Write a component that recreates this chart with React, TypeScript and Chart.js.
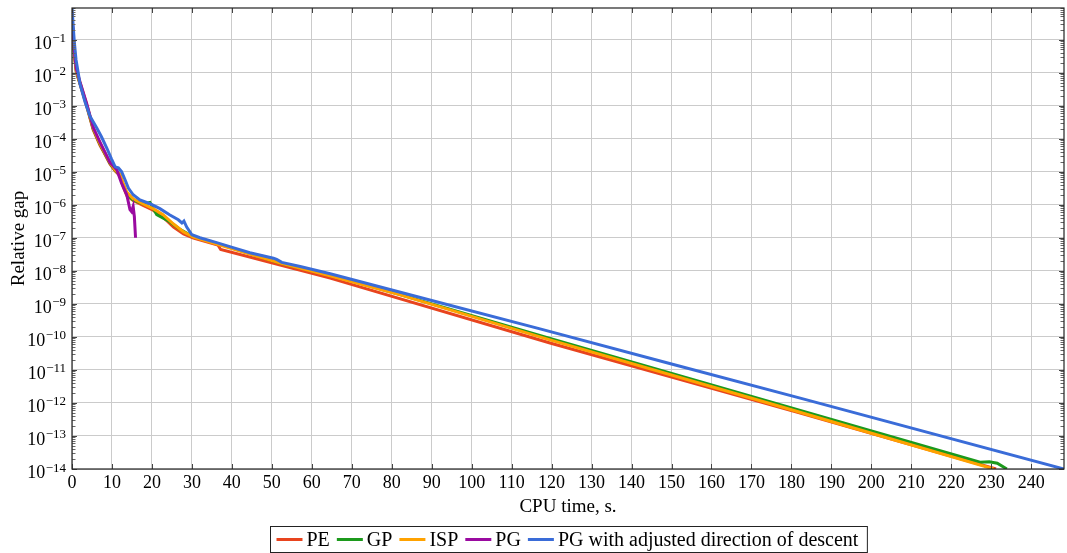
import React, { useEffect, useRef } from "react";
import { Chart, registerables } from "chart.js";
Chart.register(...registerables);

// ---------- data ----------
const peTime = [0, 0.3, 0.75, 1.1, 2.0, 3.7, 5.3, 7.0, 7.8, 9.5, 10.8, 12.0, 12.8, 13.7, 15.3, 17.8, 20.3, 22.8, 25.4, 27.9, 30.4, 36.5, 37.2, 52.1, 64.6, 119.6, 182.2, 231.2];
const peGap = [5.0e-1, 1.0e-1, 2.4e-2, 1.0e-2, 4.47e-3, 9.3e-4, 1.86e-4, 6.3e-5, 4.2e-5, 1.7e-5, 1.05e-5, 7.6e-6, 3.5e-6, 1.9e-6, 1.35e-6, 9.5e-7, 6.8e-7, 4.2e-7, 2.1e-7, 1.3e-7, 9.8e-8, 6.0e-8, 4.4e-8, 1.5e-8, 6.0e-9, 6.5e-11, 4.9e-13, 1e-14];

const gpTime = [0, 0.3, 0.75, 1.1, 2.0, 3.7, 5.3, 7.0, 9.5, 10.8, 12.0, 12.8, 13.7, 15.3, 17.8, 19.5, 21.2, 24, 27, 30, 37, 52.1, 64.6, 82.1, 119.6, 177.2, 227.2, 229.5, 231.5, 233.9];
const gpGap = [5.2e-1, 1.05e-1, 2.5e-2, 1.05e-2, 4.7e-3, 1.0e-3, 2.0e-4, 6.8e-5, 1.8e-5, 1.1e-5, 7.9e-6, 4.0e-6, 2.1e-6, 1.4e-6, 1.05e-6, 1.17e-6, 5.0e-7, 3.3e-7, 1.8e-7, 1.12e-7, 6.3e-8, 1.7e-8, 7.4e-9, 1.9e-9, 8.9e-11, 8.9e-13, 1.6e-14, 1.66e-14, 1.5e-14, 1e-14];

const ispTime = [0, 0.3, 0.75, 1.1, 2.0, 3.7, 5.3, 7.0, 9.5, 10.8, 12.0, 12.8, 13.7, 15.3, 17.8, 20.3, 22.8, 25.4, 27.9, 30.4, 37, 52.1, 64.6, 82.1, 119.6, 177.2, 230.6];
const ispGap = [5.6e-1, 1.12e-1, 2.6e-2, 1.12e-2, 5.0e-3, 1.05e-3, 2.1e-4, 7.1e-5, 1.9e-5, 1.12e-5, 8.3e-6, 4.5e-6, 2.4e-6, 1.5e-6, 1.05e-6, 7.6e-7, 5.0e-7, 2.6e-7, 1.5e-7, 1.05e-7, 6.0e-8, 1.7e-8, 7.1e-9, 1.86e-9, 8.1e-11, 7.8e-13, 1e-14];

const pgTime = [0, 0.3, 0.75, 1.1, 2.0, 3.7, 5.3, 7.0, 9.5, 11.2, 12.4, 13.7, 14.5, 14.9, 15.3, 15.6, 15.9];
const pgGap = [6.3e-1, 1.26e-1, 2.8e-2, 1.26e-2, 5.2e-3, 1.12e-3, 2.2e-4, 7.9e-5, 1.9e-5, 1.15e-5, 4.5e-6, 2.0e-6, 7.1e-7, 6.2e-7, 8.9e-7, 4.4e-7, 1.0e-7];

const pgaTime = [0, 0.3, 0.6, 1.0, 1.5, 2.0, 3.25, 4.5, 6.2, 7.4, 8.7, 9.9, 10.8, 11.6, 12.4, 13.3, 14.1, 15.3, 17.0, 19.5, 22.0, 24.5, 26.6, 27.5, 28.0, 28.7, 30.0, 32.0, 36.2, 40.3, 44.5, 50.4, 51.2, 52.5, 57.1, 64.6, 90, 117.1, 150, 182.2, 248.2];
const pgaGap = [1.0, 2.5e-1, 7.9e-2, 2.5e-2, 1.07e-2, 4.5e-3, 1.3e-3, 4.8e-4, 2.1e-4, 1.12e-4, 5.2e-5, 2.4e-5, 1.4e-5, 1.3e-5, 1.0e-5, 5.6e-6, 3.2e-6, 2.0e-6, 1.4e-6, 1.07e-6, 7.6e-7, 4.9e-7, 3.5e-7, 2.8e-7, 3.2e-7, 2.1e-7, 1.23e-7, 1.0e-7, 7.1e-8, 5.0e-8, 3.5e-8, 2.4e-8, 2.2e-8, 1.8e-8, 1.35e-8, 8.1e-9, 1.26e-9, 1.74e-10, 1.5e-11, 1.4e-12, 1e-14];

const seriesNames = ["PE", "GP", "ISP", "PG", "PG with adjusted direction of descent"];
const seriesColors = ["#e8441e", "#1c9a1c", "#ffa200", "#9a0aa0", "#3a6cd8"];

const xTickValues = [0, 10, 20, 30, 40, 50, 60, 70, 80, 90, 100, 110, 120, 130, 140, 150, 160, 170, 180, 190, 200, 210, 220, 230, 240];
const yExponents = [-14, -13, -12, -11, -10, -9, -8, -7, -6, -5, -4, -3, -2, -1];

const X_MIN = 0;
const X_MAX = 248.2;
const Y_MIN = 1e-14;
const Y_MAX = 0.9;

const FONT = "'Liberation Serif', 'Times New Roman', serif";

function pts(t: number[], g: number[]) {
  return t.map((x, i) => ({ x, y: g[i] }));
}

const decorPlugin = {
  id: "decor",
  afterDraw(chart: any) {
    const ctx = chart.ctx as CanvasRenderingContext2D;
    const { left, right, top, bottom } = chart.chartArea;
    const xs = chart.scales.x;
    const ys = chart.scales.y;
    ctx.save();

    // minor ticks on y (left & right)
    ctx.strokeStyle = "#666";
    ctx.lineWidth = 1;
    ctx.beginPath();
    for (let n = -14; n <= -1; n++) {
      for (let k = 2; k <= 9; k++) {
        const v = k * Math.pow(10, n);
        if (v > Y_MAX) continue;
        const y = Math.round(ys.getPixelForValue(v)) + 0.5;
        ctx.moveTo(left, y);
        ctx.lineTo(left + 3.5, y);
        ctx.moveTo(right, y);
        ctx.lineTo(right - 3.5, y);
      }
    }
    ctx.stroke();

    // major ticks
    ctx.strokeStyle = "#444";
    ctx.beginPath();
    for (const e of yExponents) {
      const y = Math.round(ys.getPixelForValue(Math.pow(10, e))) + 0.5;
      ctx.moveTo(left, y);
      ctx.lineTo(left + 5, y);
      ctx.moveTo(right, y);
      ctx.lineTo(right - 5, y);
    }
    for (const v of xTickValues) {
      const x = Math.round(xs.getPixelForValue(v)) + 0.5;
      ctx.moveTo(x, bottom);
      ctx.lineTo(x, bottom - 5);
      ctx.moveTo(x, top);
      ctx.lineTo(x, top + 5);
    }
    ctx.stroke();

    // axis box
    ctx.strokeStyle = "#222";
    ctx.lineWidth = 1.2;
    ctx.strokeRect(left, top, right - left, bottom - top);

    // y tick labels 10^n
    ctx.fillStyle = "#000";
    ctx.textAlign = "right";
    ctx.textBaseline = "alphabetic";
    const labelRight = left - 6;
    for (const e of yExponents) {
      const y = ys.getPixelForValue(Math.pow(10, e));
      const exp = "\u2212" + String(-e);
      ctx.font = `13px ${FONT}`;
      const ew = ctx.measureText(exp).width;
      ctx.fillText(exp, labelRight, y + 2.5);
      ctx.font = `18px ${FONT}`;
      ctx.fillText("10", labelRight - ew - 0.5, y + 9);
    }

    // legend
    const lineLen = 26;
    const gapLT = 4;
    const gapItem = 7;
    const padL = 6;
    const padR = 9;
    ctx.font = `20px ${FONT}`;
    const widths = seriesNames.map((s) => ctx.measureText(s).width);
    let total = padL + padR;
    widths.forEach((w, i) => {
      total += lineLen + gapLT + w + (i < widths.length - 1 ? gapItem : 0);
    });
    const cx = (left + right) / 2;
    const bx = Math.round(cx - total / 2) + 0.5;
    const by = 526.5;
    const bh = 26;
    ctx.fillStyle = "#fff";
    ctx.fillRect(bx, by, total, bh);
    ctx.strokeStyle = "#222";
    ctx.lineWidth = 1;
    ctx.strokeRect(bx, by, total, bh);
    let x = bx + padL;
    const ly = by + bh / 2;
    seriesNames.forEach((s, i) => {
      ctx.strokeStyle = seriesColors[i];
      ctx.lineWidth = 3;
      ctx.beginPath();
      ctx.moveTo(x, ly);
      ctx.lineTo(x + lineLen, ly);
      ctx.stroke();
      x += lineLen + gapLT;
      ctx.fillStyle = "#000";
      ctx.textAlign = "left";
      ctx.textBaseline = "alphabetic";
      ctx.fillText(s, x, ly + 6.5);
      x += widths[i] + gapItem;
    });

    ctx.restore();
  },
};

export default function App() {
  const ref = useRef<HTMLCanvasElement | null>(null);
  useEffect(() => {
    if (!ref.current) return;
    const dataSets = [
      { t: peTime, g: peGap },
      { t: gpTime, g: gpGap },
      { t: ispTime, g: ispGap },
      { t: pgTime, g: pgGap },
      { t: pgaTime, g: pgaGap },
    ];
    const chart = new Chart(ref.current, {
      type: "line",
      data: {
        datasets: dataSets.map((d, i) => ({
          label: seriesNames[i],
          data: pts(d.t, d.g),
          borderColor: seriesColors[i],
          backgroundColor: seriesColors[i],
          borderWidth: 3,
          pointRadius: 0,
          tension: 0,
          fill: false,
          order: 5 - i,
        })),
      },
      options: {
        responsive: false,
        animation: false,
        events: [],
        layout: { padding: { left: 0, right: 3, top: 8, bottom: 34 } },
        plugins: {
          legend: { display: false },
          tooltip: { enabled: false },
        },
        scales: {
          x: {
            type: "linear",
            min: X_MIN,
            max: X_MAX,
            afterBuildTicks: (scale: any) => {
              scale.ticks = xTickValues.map((v) => ({ value: v }));
            },
            afterFit: (scale: any) => {
              scale.height = 50;
            },
            grid: { color: "#cbcbcb", lineWidth: 1, drawTicks: false },
            border: { display: false },
            ticks: {
              padding: 3,
              color: "#000",
              font: { family: FONT, size: 18 },
              maxRotation: 0,
              autoSkip: false,
              callback: (v: any) => String(v),
            },
            title: {
              display: true,
              text: "CPU time, s.",
              color: "#000",
              font: { family: FONT, size: 19 },
              padding: { top: 0, bottom: 1 },
            },
          },
          y: {
            type: "logarithmic",
            min: Y_MIN,
            max: Y_MAX,
            afterBuildTicks: (scale: any) => {
              scale.ticks = yExponents.map((e) => ({ value: Math.pow(10, e) }));
            },
            afterFit: (scale: any) => {
              scale.width = 72;
            },
            grid: { color: "#cbcbcb", lineWidth: 1, drawTicks: false },
            border: { display: false },
            ticks: { display: false },
            title: {
              display: true,
              text: "Relative gap",
              color: "#000",
              font: { family: FONT, size: 19 },
              padding: { top: 8, bottom: 0 },
            },
          },
        },
      },
      plugins: [decorPlugin],
    } as any);
    return () => chart.destroy();
  }, []);
  return (
    <div style={{ position: "absolute", left: 0, top: 0, width: 1067, height: 553, background: "#fff" }}>
      <canvas ref={ref} width={1067} height={553} style={{ display: "block" }} />
    </div>
  );
}
